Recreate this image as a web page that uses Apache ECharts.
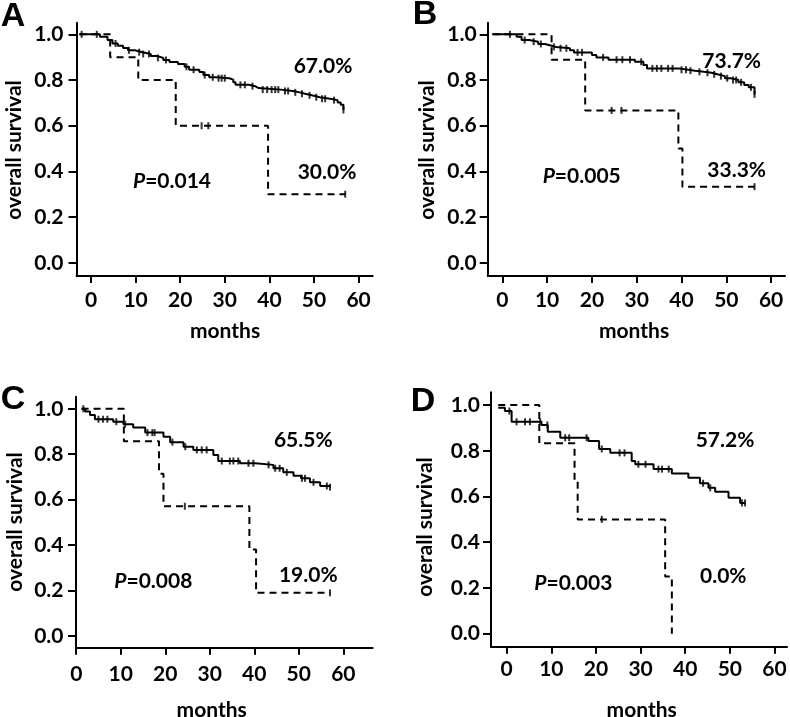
<!DOCTYPE html>
<html><head><meta charset="utf-8">
<script src="https://cdn.jsdelivr.net/npm/echarts@6/dist/echarts.min.js"></script>
<style>html,body{margin:0;padding:0;background:#fff}#c{width:790px;height:717px}</style>
</head><body><div id="c"></div>
<script>
// ---------- DATA ----------
const xTicks = [0, 10, 20, 30, 40, 50, 60];
const yTicks = [0, 0.2, 0.4, 0.6, 0.8, 1.0];

// Panel A
const aSolidT = [-2.6, 2.0, 3.7, 4.8, 6.0, 7.2, 8.3, 9.8, 11.5, 13.4, 14.8, 16.2, 17.6, 19.5, 21.0, 22.0, 24.3, 25.2, 26.5, 28.0, 31.0, 31.9, 32.4, 35.4, 36.8, 37.6, 42.5, 45.2, 46.8, 48.0, 49.5, 51.3, 53.6, 55.3, 56.0, 56.6];
const aSolidS = [1.0, 0.99, 0.975, 0.96, 0.95, 0.94, 0.93, 0.922, 0.914, 0.905, 0.897, 0.888, 0.879, 0.870, 0.858, 0.845, 0.835, 0.822, 0.812, 0.808, 0.802, 0.79, 0.779, 0.773, 0.765, 0.758, 0.752, 0.746, 0.740, 0.733, 0.725, 0.718, 0.712, 0.702, 0.692, 0.669];
const aSolidCens = [-2.1, 1.3, 5.5, 8.5, 10.8, 11.7, 13.0, 15.0, 16.8, 21.4, 23.0, 25.5, 27.3, 28.6, 29.3, 30.0, 33.5, 34.5, 36.2, 38.5, 39.5, 40.5, 41.3, 42.0, 43.5, 44.2, 45.8, 47.3, 49.0, 50.5, 51.8, 52.5, 54.5, 56.6];
const aDashT = [-2.6, 4.3, 10.6, 19.0, 39.7, 57.0];
const aDashS = [1.0, 0.9, 0.8, 0.6, 0.3, 0.3];
const aDashCens = [24.8, 26.3, 57.0];

// Panel B
const bSolidT = [-2.2, 3.2, 4.3, 6.0, 8.0, 9.5, 11.0, 12.0, 15.1, 16.0, 20.0, 21.0, 23.7, 29.6, 31.5, 32.3, 39.3, 41.5, 43.0, 45.0, 46.7, 48.0, 49.7, 51.0, 52.7, 54.0, 55.0, 56.3];
const bSolidS = [1.0, 0.99, 0.975, 0.968, 0.958, 0.95, 0.945, 0.939, 0.93, 0.921, 0.91, 0.899, 0.889, 0.88, 0.866, 0.851, 0.845, 0.841, 0.836, 0.832, 0.825, 0.817, 0.808, 0.80, 0.79, 0.778, 0.768, 0.737];
const bSolidCens = [1.7, 5.0, 7.0, 8.6, 11.5, 13.0, 14.3, 16.8, 17.8, 22.5, 25.5, 26.8, 28.5, 31.0, 33.5, 34.5, 35.5, 37.0, 38.0, 40.0, 41.0, 42.0, 44.0, 45.8, 47.3, 48.8, 50.2, 51.5, 52.2, 53.3, 55.5, 56.3];
const bDashT = [-2.2, 11.0, 18.5, 39.3, 40.2, 56.3];
const bDashS = [1.0, 0.889, 0.667, 0.5, 0.333, 0.333];
const bDashCens = [24.4, 26.6, 56.3];

// Panel C
const cSolidT = [1.2, 2.0, 3.1, 4.2, 8.3, 10.6, 12.8, 15.5, 19.6, 21.1, 24.1, 26.3, 30.8, 31.9, 36.8, 40.2, 44.3, 46.5, 48.8, 50.5, 52.5, 54.8, 57.0];
const cSolidS = [1.0, 0.988, 0.973, 0.954, 0.943, 0.932, 0.917, 0.895, 0.877, 0.853, 0.833, 0.819, 0.797, 0.770, 0.760, 0.753, 0.738, 0.720, 0.705, 0.694, 0.676, 0.66, 0.655];
const cSolidCens = [1.6, 5.0, 6.0, 7.0, 9.0, 11.0, 16.0, 17.1, 17.6, 21.6, 24.5, 27.1, 28.2, 29.3, 32.7, 34.5, 35.3, 36.4, 38.7, 39.8, 43.2, 44.7, 45.7, 47.3, 50.7, 51.4, 53.3, 56.3, 57.0];
const cDashT = [1.2, 10.7, 18.6, 19.6, 38.9, 40.4, 57.0];
const cDashS = [1.0, 0.857, 0.714, 0.571, 0.381, 0.190, 0.190];
const cDashCens = [24.4, 57.0];

// Panel D
const dSolidT = [-1.9, -0.4, 1.1, 7.8, 9.2, 12.0, 18.3, 20.7, 23.2, 28.0, 28.8, 32.9, 37.0, 40.7, 43.3, 45.2, 46.7, 49.7, 52.3, 53.4];
const dSolidS = [0.988, 0.974, 0.927, 0.913, 0.883, 0.857, 0.843, 0.808, 0.791, 0.755, 0.741, 0.720, 0.701, 0.682, 0.658, 0.638, 0.621, 0.595, 0.572, 0.572];
const dSolidCens = [0.6, 2.2, 4.1, 5.2, 7.5, 9.1, 13.1, 14.0, 17.9, 21.3, 25.3, 26.4, 29.5, 31.1, 34.0, 34.8, 36.3, 44.0, 45.6, 52.7, 53.4];
const dDashT = [-1.9, 7.3, 15.2, 15.9, 35.5, 37.0];
const dDashS = [1.0, 0.833, 0.667, 0.5, 0.25, 0.0];
const dDashCens = [21.3];

const panelLetters = ['A', 'B', 'C', 'D'];
const highPct = ['67.0%', '73.7%', '65.5%', '57.2%'];
const lowPct = ['30.0%', '33.3%', '19.0%', '0.0%'];
const pValues = ['0.014', '0.005', '0.008', '0.003'];

// ---------- LAYOUT ----------
const FONT = 'Lato, "DejaVu Sans", sans-serif';
const panels = [
  {grid:{left:76.5, top:22.7, width:296.2, height:253.3}, x:[-3.25,63.16], y:[-0.058,1.051], xm:14, ym:13,
   st:aSolidT, ss:aSolidS, sc:aSolidCens, dt:aDashT, ds:aDashS, dc:aDashCens,
   letter:[13,17], yt:[14,150], xt:[225,331.7], hi:[323,66.7], lo:[327,172], p:[172,181]},
  {grid:{left:487.7, top:22.7, width:297.3, height:253.3}, x:[-3.26,63.1], y:[-0.058,1.051], xm:14, ym:11,
   st:bSolidT, ss:bSolidS, sc:bSolidCens, dt:bDashT, ds:bDashS, dc:bDashCens,
   letter:[425,15], yt:[427,150], xt:[634,331.7], hi:[731.7,61.7], lo:[736.7,170], p:[581.7,176.7]},
  {grid:{left:76, top:396.7, width:296.7, height:251}, x:[-0.05,66.6], y:[-0.0515,1.053], xm:16, ym:12.5,
   st:cSolidT, ss:cSolidS, sc:cSolidCens, dt:cDashT, ds:cDashS, dc:cDashCens,
   letter:[13,400], yt:[15,522], xt:[211.7,710], hi:[303.3,440], lo:[308.3,575], p:[153.3,581.7]},
  {grid:{left:491, top:392.3, width:296, height:254.4}, x:[-3.52,62.8], y:[-0.057,1.056], xm:12, ym:11,
   st:dSolidT, ss:dSolidS, sc:dSolidCens, dt:dDashT, ds:dDashS, dc:dDashCens,
   letter:[423,402], yt:[425,527], xt:[641.7,710], hi:[725,440], lo:[723.3,576.7], p:[573.3,583.3]}
];

function stepPoints(t, s) { return t.map((v, i) => [v, s[i]]); }
function survAt(t, s, x) { let v = s[0]; for (let i = 0; i < t.length; i++) { if (x >= t[i]) v = s[i]; } return v; }
function censPoints(t, s, c) { return c.map(x => [x, survAt(t, s, x)]); }

const grids = [], xAxes = [], yAxes = [], series = [], graphics = [];
panels.forEach((p, i) => {
  grids.push(p.grid);
  xAxes.push({
    type:'value', gridIndex:i, min:p.x[0], max:p.x[1],
    axisLine:{show:true, onZero:false, lineStyle:{color:'#000', width:2}},
    axisTick:{show:true, length:7, lineStyle:{color:'#000', width:2}, customValues:xTicks},
    axisLabel:{color:'#000', fontFamily:FONT, fontWeight:'bold', fontSize:21, margin:p.xm, customValues:xTicks, formatter:v=>String(v)},
    splitLine:{show:false}
  });
  yAxes.push({
    type:'value', gridIndex:i, min:p.y[0], max:p.y[1],
    axisLine:{show:true, onZero:false, lineStyle:{color:'#000', width:2}},
    axisTick:{show:true, length:8, lineStyle:{color:'#000', width:2}, customValues:yTicks},
    axisLabel:{color:'#000', fontFamily:FONT, fontWeight:'bold', fontSize:21, margin:p.ym, customValues:yTicks, formatter:v=>v.toFixed(1)},
    splitLine:{show:false}
  });
  series.push({type:'line', xAxisIndex:i, yAxisIndex:i, step:'end', symbol:'none', silent:true,
    data:stepPoints(p.st, p.ss), lineStyle:{color:'#000', width:2}});
  series.push({type:'line', xAxisIndex:i, yAxisIndex:i, step:'end', symbol:'none', silent:true,
    data:stepPoints(p.dt, p.ds), lineStyle:{color:'#000', width:2, type:[7,5]}});
  series.push({type:'scatter', xAxisIndex:i, yAxisIndex:i, symbol:'rect', symbolSize:[2,7], silent:true,
    itemStyle:{color:'#000'}, data:censPoints(p.st, p.ss, p.sc)});
  series.push({type:'scatter', xAxisIndex:i, yAxisIndex:i, symbol:'rect', symbolSize:[2,7], silent:true,
    itemStyle:{color:'#000'}, data:censPoints(p.dt, p.ds, p.dc)});

  const txt = (pos, text, font, extra) => graphics.push(Object.assign({type:'text', x:pos[0], y:pos[1], silent:true,
    style:Object.assign({text, font, fill:'#000', align:'center', verticalAlign:'middle', textAlign:'center', textVerticalAlign:'middle'}, extra||{})}));
  txt(p.letter, panelLetters[i], 'bold 34px "Liberation Sans", Arial, sans-serif');
  graphics.push({type:'text', x:p.yt[0], y:p.yt[1], rotation:Math.PI/2, silent:true,
    style:{text:'overall survival', font:'bold 21px ' + FONT, fill:'#000', align:'center', verticalAlign:'middle', textAlign:'center', textVerticalAlign:'middle'}});
  txt(p.xt, 'months', 'bold 21px ' + FONT);
  txt(p.hi, highPct[i], 'bold 21px ' + FONT);
  txt(p.lo, lowPct[i], 'bold 21px ' + FONT);
  txt(p.p, '{i|P}=' + pValues[i], 'bold 21px ' + FONT, {rich:{i:{font:'italic bold 21px ' + FONT, fill:'#000'}}});
});

const chart = echarts.init(document.getElementById('c'), null, {renderer:'canvas'});
chart.setOption({animation:false, backgroundColor:'#fff', grid:grids, xAxis:xAxes, yAxis:yAxes, series, graphic:graphics});
</script>
</body></html>
